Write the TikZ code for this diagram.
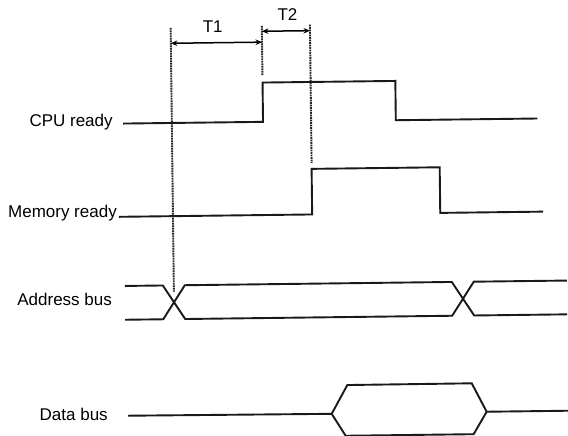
\documentclass[tikz,border=0pt]{standalone}
\usepackage{fontspec}
\setmainfont{Liberation Sans}
\usetikzlibrary{arrows.meta}
\begin{document}
\begin{tikzpicture}[x=1pt,y=-1pt,
  sig/.style={line width=1.9pt, line join=miter, draw=black!90},
  guide/.style={line width=1.9pt, dash pattern=on 1.6pt off 0.9pt, draw=black!85},
  dim/.style={line width=1.5pt, {Stealth[length=6.5pt,width=5.5pt]}-{Stealth[length=6.5pt,width=5.5pt]}},
  lbl/.style={font=\fontsize{17}{20}\selectfont, inner sep=0pt, anchor=base east},
  tlbl/.style={font=\fontsize{17}{20}\selectfont, inner sep=0pt, anchor=base}]
\path[use as bounding box, fill=white] (0,0) rectangle (568,436);
\begin{scope}[rotate around={0.7:(284,218)}]
  % guide coordinates
  \coordinate (g1t) at (173,26.6);   \coordinate (g1b) at (173,290.3);
  \coordinate (g2t) at (264.2,25.7); \coordinate (g2b) at (264.2,75.7);
  \coordinate (g3t) at (312.3,25);   \coordinate (g3b) at (312.3,163.3);
  \coordinate (a1l) at (173,41.9);   \coordinate (a1r) at (264.2,41.9);
  \coordinate (a2l) at (264.2,31);   \coordinate (a2r) at (312.3,31);
  % labels
  \node[lbl] (cpu) at (114,124.6) {CPU ready};
  \node[lbl] (mem) at (117,215.3) {Memory ready};
  \node[lbl] (addr) at (111,302.9) {Address bus};
  \node[lbl] (data) at (105.5,417.9) {Data bus};
  \node[tlbl] (t1) at (215,31.4) {T1};
  \node[tlbl] (t2) at (289.9,20.7) {T2};
  % guides
  \draw[guide] (g1t) -- (g1b);
  \draw[guide] (g2t) -- (g2b);
  \draw[guide] (g3t) -- (g3b);
  % dimension arrows
  \draw[dim] (a1l) -- (a1r);
  \draw[dim] (a2l) -- (a2r);
  % CPU ready
  \draw[sig] (124.2,121.6) -- (264.2,121.6) -- (264.2,82.3) -- (397,82.3) -- (397,121.6) -- (538.5,121.6);
  % Memory ready
  \draw[sig] (119,214.8) -- (312.2,214.8) -- (312.2,169.2) -- (440.3,169.2) -- (440.3,214.8) -- (543.3,214.8);
  % Address bus
  \draw[sig] (124,284) -- (162,284) -- (184,317.8) -- (451,317.8) -- (473,284) -- (566,284);
  \draw[sig] (124,317.8) -- (162,317.8) -- (184,284) -- (451,284) -- (473,317.8) -- (566,317.8);
  % Data bus
  \draw[sig] (125.6,413.8) -- (329.3,414.4) -- (345.3,385.8) -- (469.7,385.6) -- (484.3,414.2) -- (567,414.2);
  \draw[sig] (329.3,414.4) -- (343,436.5) -- (471,436.5) -- (484.3,414.2);
\end{scope}
\end{tikzpicture}
\end{document}
